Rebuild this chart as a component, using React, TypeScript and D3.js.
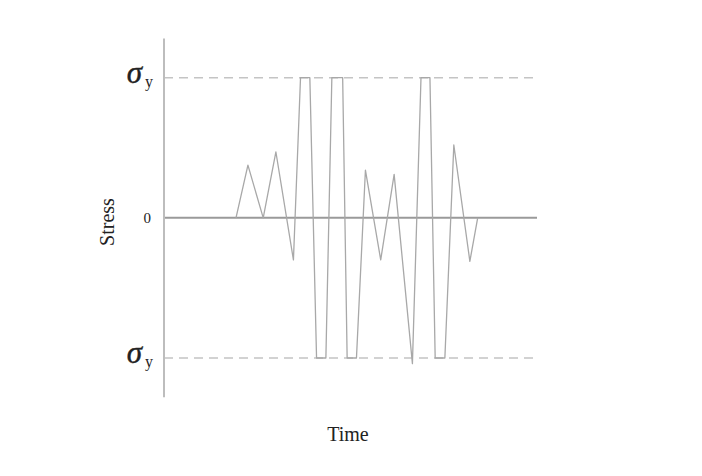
import React, { useEffect, useRef } from 'react';
import * as d3 from 'd3';

// time (arbitrary units 0..100 across the plot) and stress (in units of sigma_y)
const times = [19.3, 22.5, 26.6, 30.0, 34.7, 36.6, 39.1, 40.9, 43.4, 45.0, 47.9, 49.1, 51.6, 54.0, 58.1, 61.7, 66.6, 68.9, 71.3, 72.7, 75.3, 77.7, 82.0, 84.1];
const stress = [0, 0.376, 0, 0.47, -0.3, 1, 1, -1, -1, 1, 1, -1, -1, 0.34, -0.3, 0.31, -1.04, 1, 1, -1, -1, 0.52, -0.31, 0];
const yTicks = [1, 0, -1];
const yTickLabels = ['σ', '0', 'σ'];

const W = 702;
const H = 476;

const App: React.FC = () => {
  const ref = useRef<SVGSVGElement>(null);

  useEffect(() => {
    const svg = d3.select(ref.current);
    svg.selectAll('*').remove();

    const x = d3.scaleLinear().domain([0, 100]).range([164, 537]);
    const y = d3.scaleLinear().domain([-1, 1]).range([358, 77.7]);

    const font = '"Liberation Serif", "Times New Roman", serif';

    // dashed yield lines
    svg
      .selectAll('.yield')
      .data([1, -1])
      .enter()
      .append('line')
      .attr('x1', x(0))
      .attr('x2', x(100))
      .attr('y1', d => y(d))
      .attr('y2', d => y(d))
      .attr('stroke', '#c4c4c4')
      .attr('stroke-width', 1.5)
      .attr('stroke-dasharray', '9,6');

    // zero line
    svg
      .append('line')
      .attr('x1', x(0))
      .attr('x2', x(100))
      .attr('y1', y(0))
      .attr('y2', y(0))
      .attr('stroke', '#9a9a9a')
      .attr('stroke-width', 2);

    // vertical axis
    svg
      .append('line')
      .attr('x1', x(0))
      .attr('x2', x(0))
      .attr('y1', y(1.28))
      .attr('y2', y(-1.28))
      .attr('stroke', '#bdbdbd')
      .attr('stroke-width', 2);

    // stress history
    const line = d3
      .line<number>()
      .x((_, i) => x(times[i]))
      .y(d => y(d));

    svg
      .append('path')
      .datum(stress)
      .attr('d', line)
      .attr('fill', 'none')
      .attr('stroke', '#a8a8a8')
      .attr('stroke-width', 1.3)
      .attr('stroke-linejoin', 'round');

    // tick labels
    const ticks = svg
      .selectAll('.tick')
      .data(yTicks)
      .enter()
      .append('text')
      .attr('font-family', font)
      .attr('fill', '#222')
      .attr('text-anchor', 'end')
      .attr('x', d => (d === 0 ? 151 : 153))
      .attr('y', d => y(d) + 5);

    ticks.each(function (d, i) {
      const t = d3.select(this);
      if (d === 0) {
        t.attr('font-size', 15).text(yTickLabels[i]);
      } else {
        t.append('tspan')
          .attr('font-size', 31)
          .attr('font-style', 'italic')
          .attr('stroke', '#222')
          .attr('stroke-width', 0.4)
          .text(yTickLabels[i]);
        t.append('tspan').attr('font-size', 16).attr('dx', 3).attr('dy', 4).text('y');
      }
    });

    // axis titles
    svg
      .append('text')
      .attr('font-family', font)
      .attr('font-size', 20)
      .attr('fill', '#222')
      .attr('text-anchor', 'middle')
      .attr('transform', `translate(114, 222) rotate(-90)`)
      .text('Stress');

    svg
      .append('text')
      .attr('font-family', font)
      .attr('font-size', 20)
      .attr('fill', '#222')
      .attr('text-anchor', 'middle')
      .attr('x', 348)
      .attr('y', 441)
      .text('Time');
  }, []);

  return (
    <svg
      ref={ref}
      width={W}
      height={H}
      style={{ position: 'absolute', left: 0, top: 0, background: '#fff' }}
    />
  );
};

export default App;
